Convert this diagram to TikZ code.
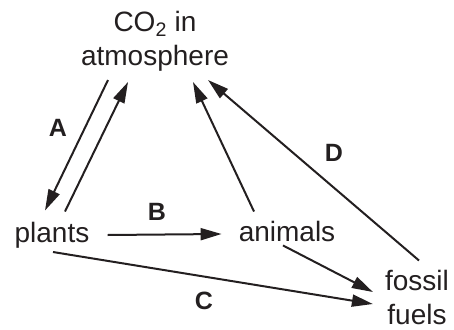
\documentclass[tikz,border=0pt]{standalone}
\usepackage{fontspec}
\setmainfont{Liberation Sans}
\usepackage{tikz}
\usetikzlibrary{arrows.meta,positioning}
\definecolor{cink}{HTML}{231F20}
\tikzset{
  >={Triangle[length=21pt,width=12pt]},
  cnode/.style={inner sep=0pt, align=center, text=cink,
                font=\fontsize{28}{34}\selectfont},
  clbl/.style={inner sep=0pt, text=cink, font=\fontsize{25}{28}\selectfont\bfseries},
  cflow/.style={->, draw=cink, line width=2pt},
}
\begin{document}
\begin{tikzpicture}[x=1pt,y=-1pt]
  \useasboundingbox (0,0) rectangle (454,329);

  % reservoirs
  \node[cnode, anchor=base] (co2) at (155,65) {CO\textsubscript{2} in\\atmosphere};
  \node[cnode, anchor=base] (plants) at (52,242) {plants};
  \node[cnode, anchor=base] (animals) at (287,241) {animals};
  \node[cnode, anchor=base] (fossil) at (417,324) {fossil\\fuels};

  % exchanges with the air
  \draw[cflow] ([xshift=-47pt,yshift=-9pt]co2.south) -- ([xshift=-7pt,yshift=11pt]plants.north);
  \draw[cflow] ([xshift=13pt,yshift=10pt]plants.north) -- ([xshift=-27pt,yshift=-11pt]co2.south);
  \draw[cflow] ([xshift=-33pt,yshift=9pt]animals.north) -- ([xshift=38pt,yshift=-11pt]co2.south);
  \draw[cflow] ([xshift=2pt,yshift=9pt]fossil.north) -- ([xshift=53pt,yshift=-9pt]co2.south);

  % food and burial
  \draw[cflow] ([xshift=18pt,yshift=7pt]plants.base east) -- ([xshift=-17pt,yshift=7pt]animals.base west);
  \draw[cflow] ([xshift=-4pt,yshift=-4pt]animals.south) -- ([xshift=-12pt,yshift=32pt]fossil.base west);
  \draw[cflow] ([xshift=1pt,yshift=-4pt]plants.south) -- ([xshift=-12pt,yshift=20pt]fossil.base west);

  % letters
  \node[clbl] (la) at (58,128) {A};
  \node[clbl] (lb) at (157,212) {B};
  \node[clbl] (lc) at (204,301) {C};
  \node[clbl] (ld) at (334,153) {D};

\end{tikzpicture}
\end{document}
